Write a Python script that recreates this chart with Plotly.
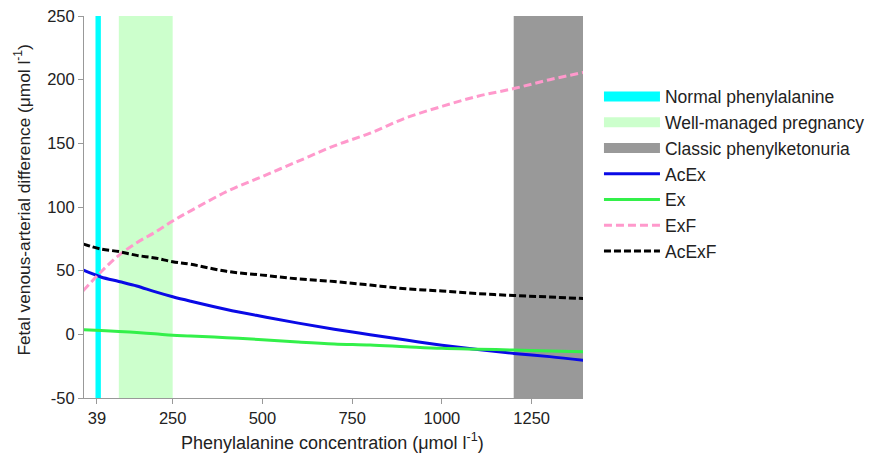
import plotly.graph_objects as go

# Phenylalanine concentration (µmol/l)
phe = [0, 50, 100, 150, 200, 250, 300, 400, 500, 600, 700, 800, 900, 1000, 1100, 1200, 1300, 1400]

acex = [50.5, 45, 41.5, 38, 33.5, 29.5, 26, 19.5, 14, 8.8, 4, -0.3, -4.5, -8.5, -12, -15, -17.5, -20.5]
ex = [3.7, 3, 2.3, 1.5, 0.5, -0.8, -1.3, -2.6, -4.2, -6, -7.5, -8.3, -9.7, -11, -11.7, -12.3, -13, -13.7]
exf = [34, 49, 62, 72, 80, 89, 97, 112, 124, 136, 148, 158, 170, 179, 187, 193, 200, 206]
acexf = [71, 67, 65, 62, 60, 57, 55, 49.5, 46.5, 43.5, 41.5, 38.7, 35.8, 34, 32, 30.5, 29.3, 28]

band_names = ["Normal phenylalanine", "Well-managed pregnancy", "Classic phenylketonuria"]
band_starts = [35, 100, 1200]
band_ends = [50, 250, 1400]
band_colors = ["#00FFFF", "#CCFFCC", "#999999"]

x_ticks = [39, 250, 500, 750, 1000, 1250]
y_ticks = [-50, 0, 50, 100, 150, 200, 250]
y_ticktext = ["-50", "0", "50", "100", "150", "200", "250"]

x_title = "Phenylalanine concentration (μmol l<sup>-1</sup>)"
y_title = "Fetal venous-arterial difference (μmol l<sup>-1</sup>)"

fig = go.Figure()

for i, (name, x0, x1, col) in enumerate(zip(band_names, band_starts, band_ends, band_colors)):
    fig.add_shape(type="rect", xref="x", yref="y", x0=x0, x1=x1, y0=-50, y1=250,
                  fillcolor=col, line=dict(width=0), layer="below")
    # legend entry for the band (no data drawn)
    fig.add_trace(go.Scatter(x=[None], y=[None], mode="lines", name=name,
                             line=dict(color=col, width=19), legendrank=i + 1,
                             legendgroup=f"g{i}", hoverinfo="skip"))

line_specs = [
    ("AcEx", acex, "#0A0AE6", "solid"),
    ("Ex", ex, "#33F04A", "solid"),
    ("ExF", exf, "#FF99CC", "8px,4px"),
    ("AcExF", acexf, "#000000", "7px,3px"),
]
for j, (name, ys, col, dash) in enumerate(line_specs):
    fig.add_trace(go.Scatter(x=phe, y=ys, mode="lines", name=name,
                             line=dict(color=col, width=3, dash=dash, shape="spline"),
                             legendgroup=f"l{j}", legendrank=10 + j))

font = "Liberation Sans, Arial, sans-serif"
fig.update_layout(
    width=866, height=454,
    margin=dict(l=76, r=291, t=8, b=64, autoexpand=False),
    paper_bgcolor="white", plot_bgcolor="white",
    font=dict(family=font, size=15, color="#222222"),
    legend=dict(x=1.032, y=0.836, xanchor="left", yanchor="top",
                font=dict(size=17.5, color="#222222"), itemwidth=56,
                tracegroupgap=0, bgcolor="rgba(0,0,0,0)"),
    xaxis=dict(range=[3, 1393], tickvals=x_ticks, ticks="outside", ticklen=5,
               tickcolor="#999999", showline=True, linecolor="#999999", linewidth=1,
               showgrid=False, zeroline=False, automargin=False,
               ticklabeloverflow="allow",
               tickfont=dict(size=16.5)),
    yaxis=dict(range=[-50, 250], tickvals=y_ticks, ticktext=y_ticktext,
               ticks="outside", ticklen=5,
               tickcolor="#999999", showline=True, linecolor="#999999", linewidth=1,
               showgrid=False, zeroline=False, automargin=False,
               ticklabeloverflow="allow",
               tickfont=dict(size=16.5)),
    annotations=[
        dict(text=x_title, xref="paper", yref="paper", x=0.497, y=0,
             xanchor="center", yanchor="middle", yshift=-43, showarrow=False,
             font=dict(size=18)),
        dict(text=y_title, xref="paper", yref="paper", x=0, y=0.518,
             xanchor="center", yanchor="middle", xshift=-61.5, showarrow=False,
             textangle=-90, font=dict(size=17.3)),
    ],
)

fig.write_html("out.html")
